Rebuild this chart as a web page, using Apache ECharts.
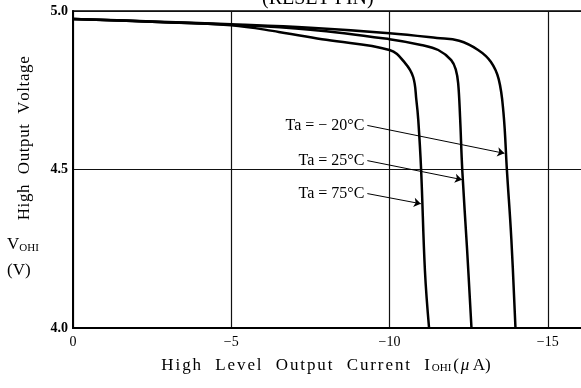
<!DOCTYPE html>
<html>
<head>
<meta charset="utf-8">
<script src="https://cdn.jsdelivr.net/npm/echarts@6/dist/echarts.min.js"></script>
<style>
  html, body { margin: 0; padding: 0; background: #fff; overflow: hidden; width: 581px; height: 388px; }
  /* the plot continues past the right edge of the page, so the drawing surface is wider */
  #chart { width: 709px; height: 388px; }
</style>
</head>
<body>
<div id="chart"></div>
<script>
// High output voltage V_OHI versus high level output current I_OHI (RESET pin)
const FONT = '"Liberation Serif", "DejaVu Serif", serif';

// Ta = -20 °C
const ioh_m20 = [0, -2.5, -5, -7.5, -10, -11.5, -12.2, -12.8, -13.2, -13.45, -13.6, -13.71, -13.85, -13.98];
const voh_m20 = [4.975, 4.967, 4.958, 4.947, 4.930, 4.915, 4.906, 4.877, 4.840, 4.785, 4.680, 4.497, 4.28, 4.0];
// Ta = 25 °C
const ioh_25 = [0, -2.5, -5, -7.5, -10, -11, -11.54, -11.95, -12.1, -12.17, -12.23, -12.3, -12.45, -12.59];
const voh_25 = [4.975, 4.966, 4.957, 4.941, 4.911, 4.893, 4.877, 4.845, 4.813, 4.772, 4.665, 4.497, 4.25, 4.0];
// Ta = 75 °C
const ioh_75 = [0, -2.5, -5, -6.5, -8, -10, -10.5, -10.75, -10.85, -10.91, -11.0, -11.12, -11.25];
const voh_75 = [4.975, 4.966, 4.955, 4.934, 4.909, 4.877, 4.835, 4.791, 4.718, 4.655, 4.497, 4.18, 4.0];

// Callout labels and their leader arrows (data coordinates)
const calloutText = ['Ta = \u2212 20\u00b0C', 'Ta = 25\u00b0C', 'Ta = 75\u00b0C'];
const calloutFrom = [[-9.3, 4.639], [-9.3, 4.528], [-9.3, 4.424]];
const calloutTo = [[-13.63, 4.551], [-12.29, 4.468], [-10.99, 4.392]];

const xTicks = [0, -5, -10, -15];
const yTicks = [4.0, 4.5, 5.0];

function pairs(xs, ys) { return xs.map((x, i) => [x, ys[i]]); }

// Wrap every character in its own rich-text token so the letters get a little extra room
function spaced(str, style) {
  return Array.from(str).map(ch => '{' + style + '|' + ch + '}').join('');
}

function curve(name, xs, ys, k) {
  return {
    name: name,
    type: 'line',
    data: pairs(xs, ys),
    smooth: 0.4,
    showSymbol: false,
    lineStyle: { color: '#000', width: 2.5 },
    silent: true,
    markLine: {
      silent: true,
      symbol: ['none', 'arrow'],
      symbolSize: 7,
      label: { show: false },
      lineStyle: { color: '#000', width: 1, type: 'solid' },
      data: [[{ coord: calloutFrom[k] }, { coord: calloutTo[k] }]]
    }
  };
}

const chart = echarts.init(document.getElementById('chart'), null, { renderer: 'canvas' });

chart.setOption({
  animation: false,
  backgroundColor: '#fff',
  grid: {
    left: 73, top: 11, bottom: 60, right: 0,
    show: true, borderColor: '#000', borderWidth: 1.5, backgroundColor: 'transparent'
  },
  xAxis: {
    type: 'value',
    inverse: true,
    min: -20, max: 0, interval: 5,
    axisLine: { show: true, lineStyle: { color: '#000', width: 2 } },
    axisTick: { show: false },
    splitLine: { show: true, lineStyle: { color: '#111', width: 1.2 } },
    axisLabel: {
      color: '#000', fontFamily: FONT, fontSize: 14, margin: 7,
      formatter: v => (xTicks.indexOf(v) < 0 ? '' : (v === 0 ? '0' : '\u2212' + Math.abs(v)))
    }
  },
  yAxis: {
    type: 'value',
    min: 4.0, max: 5.0, interval: 0.5,
    axisLine: { show: true, lineStyle: { color: '#000', width: 2 } },
    axisTick: { show: false },
    splitLine: { show: true, lineStyle: { color: '#111', width: 1.2 } },
    axisLabel: {
      color: '#000', fontFamily: FONT, fontSize: 14, fontWeight: 'bold', margin: 5,
      formatter: v => (yTicks.some(t => Math.abs(t - v) < 1e-9) ? v.toFixed(1) : '')
    }
  },
  series: [
    curve('Ta=-20', ioh_m20, voh_m20, 0),
    curve('Ta=25', ioh_25, voh_25, 1),
    curve('Ta=75', ioh_75, voh_75, 2)
  ]
});

// Text placed relative to the plot
const gfx = [
  {
    type: 'text', left: 262, top: -11,
    style: { text: '(RESET PIN)', font: '20px ' + FONT, fill: '#000' }
  },
  {
    type: 'text', x: 25, y: 138, rotation: Math.PI / 2,
    style: {
      text: spaced('High  Output  Voltage', 't'),
      align: 'center', verticalAlign: 'middle', fill: '#000',
      rich: { t: { font: '17px ' + FONT, fill: '#000', padding: [0, 0.6, 0, 0] } }
    }
  },
  {
    type: 'text', x: 7, y: 245,
    style: {
      text: '{v|V}{s|OHI}', verticalAlign: 'middle', fill: '#000',
      rich: {
        v: { font: '17px ' + FONT, fill: '#000' },
        s: { font: '11px ' + FONT, fill: '#000', verticalAlign: 'bottom', padding: [4, 0, 0, 0] }
      }
    }
  },
  {
    type: 'text', x: 7, y: 271,
    style: { text: '(V)', font: '17px ' + FONT, fill: '#000', verticalAlign: 'middle' }
  },
  {
    type: 'text', x: 327, y: 366,
    style: {
      text: spaced('High  Level  Output  Current  I', 't') + '{s|OHI}' +
            '{t|(}{m|\u03bc}{t|\u2009A)}',
      align: 'center', verticalAlign: 'middle', fill: '#000',
      rich: {
        t: { font: '17px ' + FONT, fill: '#000', padding: [0, 1.9, 0, 0] },
        s: { font: '11px ' + FONT, fill: '#000', padding: [4, 2, 0, 0] },
        m: { font: 'italic 17px ' + FONT, fill: '#000' }
      }
    }
  }
];

calloutText.forEach((t, k) => {
  const p = chart.convertToPixel({ seriesIndex: k }, calloutFrom[k]);
  gfx.push({
    type: 'text', x: p[0] - 3, y: p[1],
    style: { text: t, font: '16px ' + FONT, fill: '#000', align: 'right', verticalAlign: 'middle' }
  });
});

chart.setOption({ graphic: gfx });
</script>
</body>
</html>
